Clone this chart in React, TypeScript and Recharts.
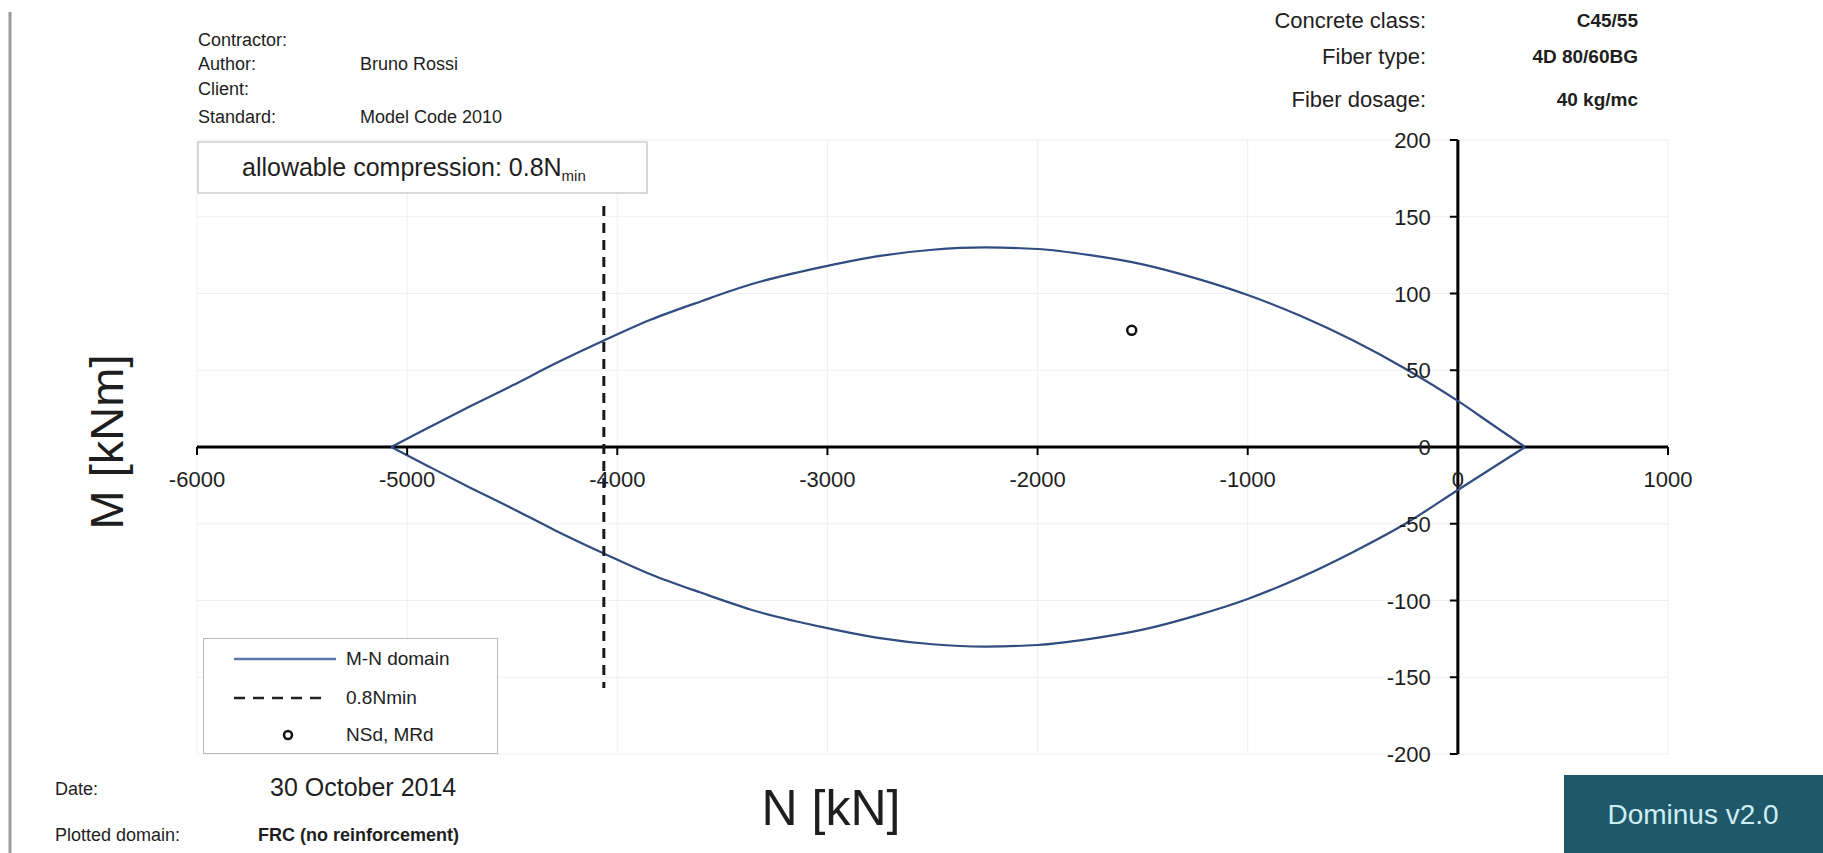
import React from 'react'
import {
  ComposedChart,
  Line,
  Scatter,
  XAxis,
  YAxis,
  CartesianGrid,
  ReferenceLine,
  Legend,
} from 'recharts'

const W = 1823
const H = 853
// the axes take 1px each, so the plot area is 197..1668 x 140..754
const MARGIN = { top: 140, right: 155, bottom: 98, left: 196 }
const PLOT_LEFT = MARGIN.left + 1
const PLOT_W = W - PLOT_LEFT - MARGIN.right
const PLOT_H = H - MARGIN.top - MARGIN.bottom - 1
const FONT = '"Liberation Sans", Arial, sans-serif'

// axes
const nDomain = [-6000, 1000]
const mDomain = [-200, 200]
const nTicks = [-6000, -5000, -4000, -3000, -2000, -1000, 0, 1000]
const mTicks = [200, 150, 100, 50, 0, -50, -100, -150, -200]

// M-N domain, upper and lower branch
const domainN = [
  -5076, -4900, -4700, -4500, -4300, -4069, -3839, -3600, -3363, -3000, -2750, -2500, -2250,
  -2000, -1750, -1500, -1250, -1000, -750, -500, -250, 0, 160, 320,
]
const upperM = [
  0, 12.5, 26.5, 40, 54, 69, 83, 95, 106, 118, 124.5, 128.5, 130,
  129, 125, 119, 110, 99, 85.5, 69.5, 51, 30, 15, 0,
]
const lowerM = [
  0, -12.5, -26.5, -40, -54, -69, -83, -95, -106, -118, -124.5, -128.5, -130,
  -129, -125, -119, -110, -99, -85, -68.5, -50, -28, -14, 0,
]

// 0.8 Nmin line
const nminN = [-4064, -4064]
const nminM = [157, -157]

// NSd, MRd
const sdN = [-1552]
const sdM = [76]

const legendItems = ['M-N domain', '0.8Nmin', 'NSd, MRd']

const upperData = domainN.map((n, i) => ({ N: n, M: upperM[i] }))
const lowerData = domainN.map((n, i) => ({ N: n, M: lowerM[i] }))
const nminData = nminN.map((n, i) => ({ N: n, M: nminM[i] }))
const sdData = sdN.map((n, i) => ({ N: n, M: sdM[i] }))

// where the axes cross (N = 0, M = 0)
const ZERO_X = PLOT_LEFT + (PLOT_W * (0 - nDomain[0])) / (nDomain[1] - nDomain[0])
const ZERO_Y = MARGIN.top + (PLOT_H * mDomain[1]) / (mDomain[1] - mDomain[0])

const CURVE = '#304c80'

const XTick = ({ x, payload }: any) => (
  <g>
    <line x1={x} x2={x} y1={ZERO_Y} y2={ZERO_Y + 8} stroke="#000" strokeWidth={2} />
    <text x={x} y={ZERO_Y + 40} textAnchor="middle" fontSize={22} fontFamily={FONT} fill="#1e1e1e">
      {payload.value}
    </text>
  </g>
)

const YTick = ({ y, payload }: any) => (
  <g>
    <line x1={ZERO_X - 8} x2={ZERO_X} y1={y} y2={y} stroke="#000" strokeWidth={2} />
    <text x={ZERO_X - 27} y={y + 8} textAnchor="end" fontSize={22} fontFamily={FONT} fill="#1e1e1e">
      {payload.value}
    </text>
  </g>
)

const OpenCircle = (props: any) => (
  <circle cx={props.cx} cy={props.cy} r={4.5} fill="#fff" stroke="#111" strokeWidth={2.5} />
)

const renderLegend = () => (
  <div
    style={{
      width: 295,
      height: 116,
      boxSizing: 'border-box',
      border: '1px solid #b8b8b8',
      background: '#fff',
      position: 'relative',
      fontFamily: FONT,
    }}
  >
    <svg width={140} height={116} style={{ position: 'absolute', left: 0, top: 0 }}>
      <line x1={30} x2={132} y1={20} y2={20} stroke="#5b77a6" strokeWidth={2.5} />
      <line x1={30} x2={122} y1={59} y2={59} stroke="#222" strokeWidth={2.5} strokeDasharray="11 8" />
      <circle cx={84} cy={96} r={4} fill="#fff" stroke="#111" strokeWidth={2.5} />
    </svg>
    {legendItems.map((label, i) => (
      <div
        key={label}
        style={{
          position: 'absolute',
          left: 142,
          top: [20, 59, 96][i] - 11,
          fontSize: 19,
          lineHeight: '22px',
          color: '#222',
          whiteSpace: 'nowrap',
        }}
      >
        {label}
      </div>
    ))}
  </div>
)

export default function App() {
  return (
    <div style={{ position: 'absolute', left: 0, top: 0, width: W, height: H, background: '#fff', overflow: 'hidden' }}>
      <ComposedChart width={W} height={H} margin={MARGIN}>
        <CartesianGrid stroke="#efefef" strokeWidth={1} />
        <XAxis
          type="number"
          dataKey="N"
          domain={nDomain}
          ticks={nTicks}
          interval={0}
          height={1}
          axisLine={false}
          tickLine={false}
          tick={<XTick />}
          allowDataOverflow
        />
        <YAxis
          type="number"
          dataKey="M"
          domain={mDomain}
          ticks={mTicks}
          interval={0}
          width={1}
          axisLine={false}
          tickLine={false}
          tick={<YTick />}
          allowDataOverflow
        />
        <ReferenceLine y={0} stroke="#000" strokeWidth={3} />
        <ReferenceLine x={0} stroke="#000" strokeWidth={3} />
        <Line
          data={upperData}
          dataKey="M"
          type="monotone"
          stroke={CURVE}
          strokeWidth={2.2}
          dot={false}
          isAnimationActive={false}
        />
        <Line
          data={lowerData}
          dataKey="M"
          type="monotone"
          stroke={CURVE}
          strokeWidth={2.2}
          dot={false}
          legendType="none"
          isAnimationActive={false}
        />
        <Line
          data={nminData}
          dataKey="M"
          type="linear"
          stroke="#1a1a1a"
          strokeWidth={3}
          strokeDasharray="10 7"
          dot={false}
          isAnimationActive={false}
        />
        <Scatter data={sdData} dataKey="M" shape={<OpenCircle />} isAnimationActive={false} />
        <Legend
          layout="horizontal"
          verticalAlign="middle"
          align="center"
          content={renderLegend}
          wrapperStyle={{ position: 'absolute', left: 203, top: 638, width: 295, height: 116 }}
        />
      </ComposedChart>

      <svg
        width={W}
        height={H}
        style={{ position: 'absolute', left: 0, top: 0, pointerEvents: 'none' }}
        fontFamily={FONT}
        fill="#1e1e1e"
      >
        <line x1={10} x2={10} y1={12} y2={H} stroke="#9a9a9a" strokeWidth={3} />

        {/* header left */}
        <g fontSize={18}>
          <text x={198} y={46}>Contractor:</text>
          <text x={198} y={70}>Author:</text>
          <text x={360} y={70}>Bruno Rossi</text>
          <text x={198} y={95}>Client:</text>
          <text x={198} y={123}>Standard:</text>
          <text x={360} y={123}>Model Code 2010</text>
        </g>

        {/* header right */}
        <g fontSize={22} textAnchor="end">
          <text x={1426} y={28}>Concrete class:</text>
          <text x={1426} y={64}>Fiber type:</text>
          <text x={1426} y={107}>Fiber dosage:</text>
        </g>
        <g fontSize={19} textAnchor="end" fontWeight="bold">
          <text x={1638} y={27}>C45/55</text>
          <text x={1638} y={63}>4D 80/60BG</text>
          <text x={1638} y={106}>40 kg/mc</text>
        </g>

        {/* allowable compression box */}
        <rect x={198} y={142} width={449} height={51} fill="#fff" stroke="#b5b5b5" strokeWidth={1} />
        <text x={242} y={176} fontSize={25}>
          allowable compression: 0.8N
          <tspan fontSize={15} dy={5}>min</tspan>
        </text>

        {/* axis titles */}
        <text
          transform={`translate(${106},${442}) rotate(-90)`}
          textAnchor="middle"
          dominantBaseline="central"
          fontSize={47}
        >
          M [kNm]
        </text>
        <text x={831} y={825} textAnchor="middle" fontSize={50}>
          N [kN]
        </text>

        {/* footer */}
        <text x={55} y={795} fontSize={18}>Date:</text>
        <text x={270} y={796} fontSize={25}>30 October 2014</text>
        <text x={55} y={841} fontSize={18}>Plotted domain:</text>
        <text x={258} y={841} fontSize={18} fontWeight="bold">FRC (no reinforcement)</text>

        <rect x={1564} y={775} width={W - 1564} height={H - 775} fill="#1f5868" />
        <text x={1693} y={824} textAnchor="middle" fontSize={28} fill="#cdeef4">
          Dominus v2.0
        </text>
      </svg>
    </div>
  )
}
